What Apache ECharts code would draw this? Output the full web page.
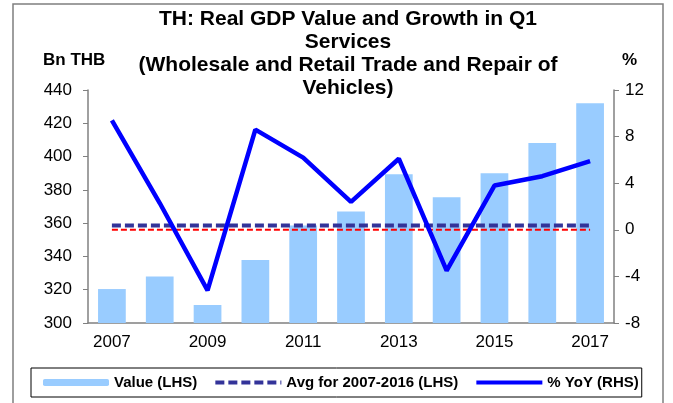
<!DOCTYPE html>
<html>
<head>
<meta charset="utf-8">
<script src="https://cdn.jsdelivr.net/npm/echarts@6/dist/echarts.min.js"></script>
<style>
  html, body { margin: 0; padding: 0; background: #fff; }
  #chart { width: 673px; height: 403px; }
</style>
</head>
<body>
<div id="chart"></div>
<script>
// data
const years = ["2007", "2008", "2009", "2010", "2011", "2012", "2013", "2014", "2015", "2016", "2017"];
const gdpValue = [320.4, 328.0, 310.8, 337.8, 358.6, 367.0, 389.4, 375.6, 390.0, 408.2, 432.0];
const avgValue = [358.6, 358.6, 358.6, 358.6, 358.6, 358.6, 358.6, 358.6, 358.6, 358.6, 358.6];
const yoyGrowth = [9.4, 2.3, -5.2, 8.6, 6.2, 2.4, 6.1, -3.5, 3.8, 4.6, 5.9];
const zeroLine = [0, 0, 0, 0, 0, 0, 0, 0, 0, 0, 0];

const titleLines = [
  "TH: Real GDP Value and Growth in Q1",
  "Services",
  "(Wholesale and Retail Trade and Repair of",
  "Vehicles)"
];

const font = "Liberation Sans, Arial, sans-serif";

const chart = echarts.init(document.getElementById("chart"));

const option = {
  animation: false,
  textStyle: { fontFamily: font },
  grid: { left: 88, right: 59, top: 90, bottom: 80, containLabel: false },
  graphic: [
    {
      type: "rect",
      shape: { x: 13, y: 4, width: 650, height: 420 },
      style: { fill: "none", stroke: "#7f7f7f", lineWidth: 1.5 },
      z: -1
    },
    {
      type: "text",
      x: 348,
      y: 8,
      style: {
        text: titleLines.join("\n"),
        textAlign: "center",
        font: "bold 21px " + font,
        lineHeight: 23,
        fill: "#000"
      }
    },
    {
      type: "text",
      x: 43,
      y: 52,
      style: { text: "Bn THB", font: "bold 17px " + font, fill: "#000" }
    },
    {
      type: "text",
      x: 622,
      y: 52,
      style: { text: "%", font: "bold 17px " + font, fill: "#000" }
    }
  ],
  legend: {
    left: 31,
    top: 368,
    padding: [7, 3, 7, 12],
    itemGap: 16,
    itemWidth: 66,
    itemHeight: 7,
    borderColor: "#000",
    borderWidth: 1,
    textStyle: { fontWeight: "bold", fontSize: 15, color: "#000", fontFamily: font },
    data: [
      { name: "Value (LHS)" },
      { name: "Avg for 2007-2016 (LHS)", itemStyle: { opacity: 0 }, lineStyle: { width: 4 } },
      { name: "% YoY (RHS)", itemStyle: { opacity: 0 }, lineStyle: { width: 4 } }
    ]
  },
  xAxis: {
    type: "category",
    data: years,
    boundaryGap: true,
    axisLine: { onZero: false, lineStyle: { color: "#808080", width: 1.5 } },
    axisTick: { interval: 0, length: 5, lineStyle: { color: "#808080" } },
    axisLabel: { interval: 1, color: "#000", fontSize: 17, margin: 11 }
  },
  yAxis: [
    {
      type: "value",
      min: 300,
      max: 440,
      interval: 20,
      splitLine: { show: false },
      axisLine: { show: true, lineStyle: { color: "#808080", width: 1.5 } },
      axisTick: { show: true, length: 5, lineStyle: { color: "#808080" } },
      axisLabel: { color: "#000", fontSize: 17, margin: 16 }
    },
    {
      type: "value",
      min: -8,
      max: 12,
      interval: 4,
      splitLine: { show: false },
      axisLine: { show: true, lineStyle: { color: "#808080", width: 1.5 } },
      axisTick: { show: true, length: 5, lineStyle: { color: "#808080" } },
      axisLabel: { color: "#000", fontSize: 17, margin: 11 }
    }
  ],
  series: [
    {
      name: "Value (LHS)",
      type: "bar",
      data: gdpValue,
      barWidth: "58%",
      itemStyle: { color: "#99ccff" },
      z: 1
    },
    {
      name: "zero",
      type: "line",
      yAxisIndex: 1,
      data: zeroLine,
      symbol: "none",
      lineStyle: { color: "#ff0000", width: 2, type: [6, 3] },
      z: 2
    },
    {
      name: "Avg for 2007-2016 (LHS)",
      type: "line",
      data: avgValue,
      symbol: "none",
      itemStyle: { color: "#333399" },
      lineStyle: { color: "#333399", width: 4, type: [9, 4] },
      z: 3
    },
    {
      name: "% YoY (RHS)",
      type: "line",
      yAxisIndex: 1,
      data: yoyGrowth,
      symbol: "none",
      itemStyle: { color: "#0000ff" },
      lineStyle: { color: "#0000ff", width: 4.5 },
      z: 4
    }
  ]
};

chart.setOption(option);
window.addEventListener("resize", () => chart.resize());
</script>
</body>
</html>
